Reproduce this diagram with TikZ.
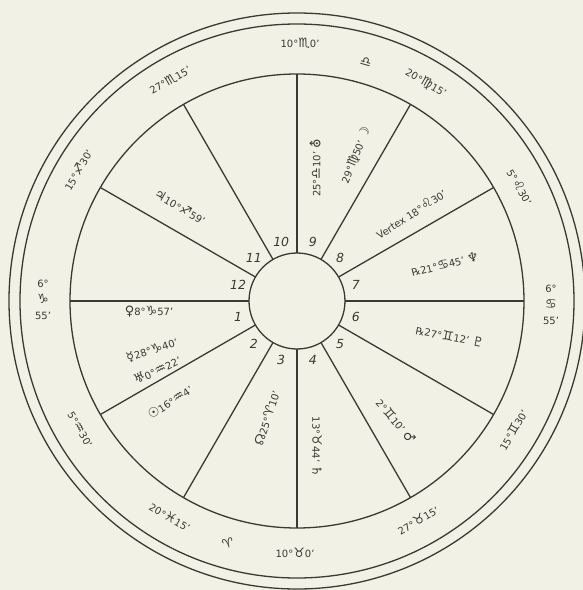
\documentclass[tikz,border=0pt]{standalone}
\usepackage{fontspec}
\setmainfont{DejaVu Sans}
\definecolor{bg}{HTML}{F2F1E5}
\definecolor{ink}{HTML}{3A3A35}
\newcommand\zz[1]{{\fontsize{13}{13}\selectfont #1}}
\tikzset{
  ln/.style={draw=ink, line width=1.3pt},
  ringc/.style={circle, ln, inner sep=0pt, outer sep=0pt},
  lbl/.style={text=ink, inner sep=0pt, font=\fontsize{10}{11}\selectfont},
  stack/.style={lbl, align=center, font=\fontsize{10}{16}\selectfont},
  hnum/.style={text=ink, inner sep=0pt, font=\fontsize{12.5}{13}\selectfont\itshape}
}
\begin{document}
\begin{tikzpicture}[x=1pt,y=1pt]
\useasboundingbox[fill=bg] (-297,-289) rectangle (286,301);
% circles
\node[ringc, minimum size=576pt] (outer) at (0,0) {};
\node[ringc, minimum size=554pt] (outer2) at (0,0) {};
\node[ringc, minimum size=454pt] (ring) at (0,0) {};
\node[ringc, minimum size=96pt] (hub) at (0,0) {};
% cusps
\foreach \a in {0,30,...,330} { \draw[ln] (hub.\a) -- (ring.\a); }
% house numbers
\foreach \n/\a in {1/195,2/225,3/255,4/285,5/315,6/345,7/15,8/45,9/75,10/105,11/135,12/165}
  { \node[hnum] (h\n) at (\a:61) {\n}; }
% cusp signs in the outer ring
\node[lbl] (mc) at (3,258) {10°\zz{♏}0'};
\node[lbl, rotate=-16] (libra) at (69,239) {\zz{♎}};
\node[lbl, rotate=-30] (c9) at (129,218) {20°\zz{♍}15'};
\node[lbl, rotate=-60] (c8) at (223,114) {5°\zz{♌}30'};
\node[stack] (dsc) at (254,-4) {6°\\\zz{♋}\\55'};
\node[lbl, rotate=60] (c6) at (216,-129) {15°\zz{♊}30'};
\node[lbl, rotate=30] (c5) at (121,-219) {27°\zz{♉}15'};
\node[lbl] (ic) at (-2,-252) {10°\zz{♉}0'};
\node[lbl, rotate=16] (aries) at (-69,-242) {\zz{♈}};
\node[lbl, rotate=-30] (c3) at (-127,-216) {20°\zz{♓}15'};
\node[lbl, rotate=-60] (c2) at (-217,-129) {5°\zz{♒}30'};
\node[stack] (asc) at (-254,1) {6°\\\zz{♑}\\55'};
\node[lbl, rotate=60] (c12) at (-219,131) {15°\zz{♐}30'};
\node[lbl, rotate=30] (c11) at (-127,221) {27°\zz{♏}15'};
% planets
\node[lbl, rotate=-30] (jup) at (-117,94) {\zz{♃}10°\zz{♐}59'};
\node[lbl] (ven) at (-148,-11) {\zz{♀}8°\zz{♑}57'};
\node[lbl, rotate=18] (mer) at (-145,-49) {\zz{☿}28°\zz{♑}40'};
\node[lbl, rotate=25] (ura) at (-140,-69) {\zz{♅}0°\zz{♒}22'};
\node[lbl, rotate=33] (sun) at (-127,-101) {\zz{☉}16°\zz{♒}4'};
\node[lbl, rotate=72] (node) at (-30,-117) {\zz{☊}25°\zz{♈}10'};
\node[lbl, rotate=-90] (sat) at (20,-146) {13°\zz{♉}44' \zz{♄}};
\node[lbl, rotate=-50] (mar) at (99,-120) {2°\zz{♊}10' \zz{♂}};
\node[lbl, rotate=-11] (plu) at (153,-35) {℞27°\zz{♊}12' \zz{♇}};
\node[lbl, rotate=14] (nep) at (148,37) {℞21°\zz{♋}45' \zz{♆}};
\node[lbl, rotate=33] (vtx) at (114,87) {Vertex 18°\zz{♌}30'};
\node[lbl, rotate=68] (moon) at (59,146) {29°\zz{♍}50' \zz{☽}};
\node[lbl, rotate=90] (lib) at (18,133) {25°\zz{♎}10' \zz{⛢}};
\end{tikzpicture}
\end{document}
